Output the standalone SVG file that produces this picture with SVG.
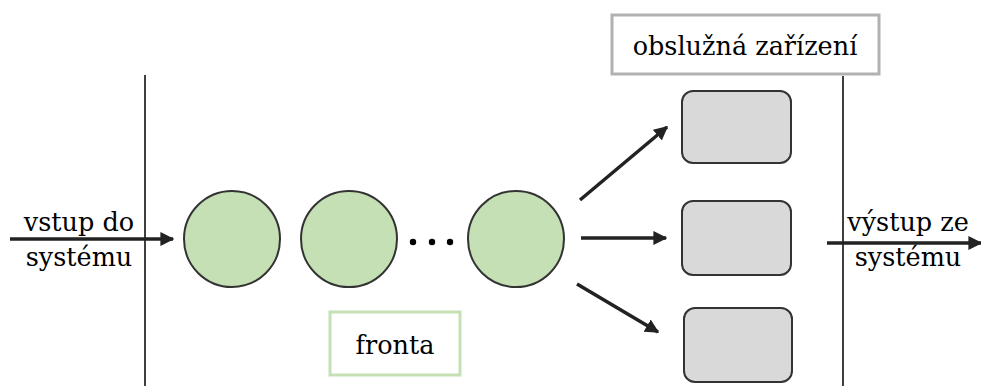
<svg xmlns="http://www.w3.org/2000/svg" width="981" height="386" viewBox="0 0 981 386">
<style>
text{font-family:'DejaVu Serif',serif;font-size:25.5px;fill:#000;text-anchor:middle}
.q{fill:#c5e0b4;stroke:#333;stroke-width:2}
.s{fill:#d9d9d9;stroke:#333;stroke-width:2}
.a{stroke:#222;stroke-width:3.5;fill:none;marker-end:url(#ah)}
.b{stroke:#000;stroke-width:1.5}
</style>
<defs>
<marker id="ah" viewBox="0 0 10 10" refX="9" refY="5" markerWidth="4" markerHeight="4" orient="auto" markerUnits="strokeWidth">
<path d="M0,0 L10,5 L0,10 z" fill="#222"/>
</marker>
</defs>
<g id="boundaries">
<line class="b" x1="145" y1="75" x2="145" y2="386"/>
<line class="b" x1="843" y1="76" x2="843" y2="386"/>
</g>
<g id="label-servers">
<rect x="612" y="15" width="267" height="59" fill="#fff" stroke="#b3b0b0" stroke-width="3"/>
<text x="745" y="55">obslužná zařízení</text>
</g>
<g id="label-queue">
<rect x="330" y="312" width="130" height="63" fill="#fff" stroke="#c5e0b4" stroke-width="3"/>
<text x="395" y="354">fronta</text>
</g>
<g id="input-label">
<text x="79" y="231">vstup do</text>
<text x="79" y="266">systému</text>
</g>
<g id="output-label">
<text x="908" y="231">výstup ze</text>
<text x="908" y="266">systému</text>
</g>
<g id="queue1"><circle class="q" cx="232" cy="239" r="48"/></g>
<g id="queue2"><circle class="q" cx="349" cy="239" r="48"/></g>
<g id="dots">
<circle cx="413" cy="242" r="3.2" fill="#000"/>
<circle cx="432" cy="242" r="3.2" fill="#000"/>
<circle cx="450" cy="242" r="3.2" fill="#000"/>
</g>
<g id="queue3"><circle class="q" cx="516" cy="239" r="48"/></g>
<g id="server1"><rect class="s" x="682" y="91" width="109" height="72" rx="11"/></g>
<g id="server2"><rect class="s" x="682" y="201" width="109" height="74" rx="11"/></g>
<g id="server3"><rect class="s" x="684" y="308" width="108" height="74" rx="11"/></g>
<g id="connectors">
<line class="a" x1="10" y1="239" x2="173" y2="239"/>
<line class="a" x1="580" y1="200" x2="667" y2="127"/>
<line class="a" x1="581" y1="238" x2="666" y2="238"/>
<line class="a" x1="577" y1="284" x2="658" y2="332"/>
<line class="a" x1="827" y1="243" x2="981" y2="243"/>
</g>
</svg>
